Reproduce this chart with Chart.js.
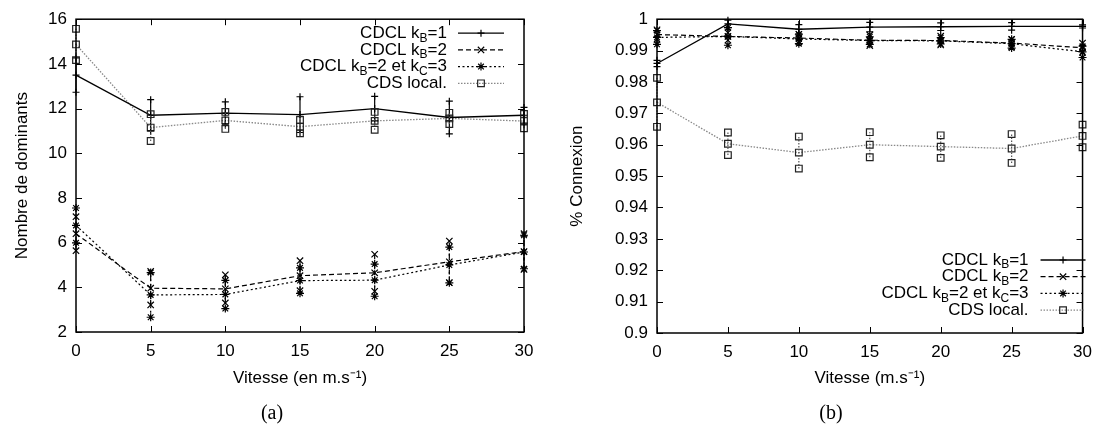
<!DOCTYPE html>
<html>
<head>
<meta charset="utf-8">
<script src="https://cdn.jsdelivr.net/npm/chart.js@4/dist/chart.umd.min.js"></script>
<style>
    body { margin: 0; background: #fff; width: 1101px; height: 426px; position: relative; overflow: hidden; }
    .wrap { position: absolute; top: 0; height: 426px; width: 550px; }
    .cap { position: absolute; top: 399px; width: 550px; text-align: center; font: 20px "Liberation Serif", "Times New Roman", serif; line-height: 26px; color: #000; }
</style>
</head>
<body>
<div class="wrap" style="left:0"><canvas id="chartA"></canvas></div>
<div class="wrap" style="left:551px"><canvas id="chartB"></canvas></div>
<div class="cap" style="left:-3px">(a)</div>
<div class="cap" style="left:556px">(b)</div>
<script>
// Vitesse (m/s)
const vitesse = [0, 5, 10, 15, 20, 25, 30];

const seriesLabels = ['CDCL k_B=1', 'CDCL k_B=2', 'CDCL k_B=2 et k_C=3', 'CDS local.'];

// (a) Nombre de dominants
const domKB1     = [13.5, 11.7, 11.8, 11.73, 12.0, 11.6, 11.7];
const domKB1Err  = [0.77, 0.7, 0.5, 0.8, 0.55, 0.73, 0.35];
const domKB2     = [6.4, 3.96, 3.93, 4.52, 4.65, 5.14, 5.6];
const domKB2Err  = [0.76, 0.75, 0.63, 0.67, 0.83, 0.93, 0.8];
const domKC3     = [6.77, 3.66, 3.68, 4.3, 4.32, 5.0, 5.58];
const domKC3Err  = [0.78, 1.0, 0.63, 0.57, 0.72, 0.8, 0.75];
const domCDS     = [14.87, 11.15, 11.47, 11.19, 11.45, 11.56, 11.44];
const domCDSErr  = [0.7, 0.6, 0.38, 0.3, 0.4, 0.25, 0.32];

// (b) % Connexion
const conKB1     = [0.9859, 0.9985, 0.9968, 0.9975, 0.9976, 0.9977, 0.9977];
const conKB1Err  = [0.001, 0.0012, 0.0015, 0.0015, 0.0012, 0.0012, 0.0005];
const conKB2     = [0.9951, 0.9945, 0.9940, 0.9933, 0.9932, 0.9924, 0.9909];
const conKB2Err  = [0.0015, 0.0012, 0.0012, 0.0017, 0.0014, 0.0012, 0.0015];
const conKC3     = [0.9942, 0.9945, 0.9937, 0.9932, 0.9931, 0.9922, 0.9896];
const conKC3Err  = [0.0022, 0.0028, 0.0015, 0.0012, 0.001, 0.0014, 0.0018];
const conCDS     = [0.9735, 0.9603, 0.9575, 0.9600, 0.9594, 0.9588, 0.9628];
const conCDSErr  = [0.0078, 0.0036, 0.0051, 0.004, 0.0036, 0.0046, 0.0036];

const FONT = '"Liberation Sans", Arial, sans-serif';
Chart.defaults.font.family = FONT;
Chart.defaults.font.size = 17;
Chart.defaults.color = '#000';

// line / marker look of each series (gnuplot style)
const looks = [
    { color: '#000', dash: [], width: 1.3, marker: 'plus', r: 3.5, mcolor: '#000' },
    { color: '#000', dash: [5, 3], width: 1.2, marker: 'cross', r: 4.5, mcolor: '#000' },
    { color: '#000', dash: [2, 2.5], width: 1.2, marker: 'star', r: 4, mcolor: '#000' },
    { color: '#888', dash: [1.5, 1.5], width: 1.3, marker: 'square', r: 4.7, mcolor: '#222' }
];
const chartjsPoint = { plus: 'cross', cross: 'crossRot', star: 'star', square: 'rect' };

function drawMarker(ctx, kind, x, y, r) {
    const d = r * Math.SQRT1_2;
    ctx.beginPath();
    if (kind === 'plus' || kind === 'star') {
        ctx.moveTo(x - r, y); ctx.lineTo(x + r, y);
        ctx.moveTo(x, y - r); ctx.lineTo(x, y + r);
    }
    if (kind === 'cross' || kind === 'star') {
        ctx.moveTo(x - d, y - d); ctx.lineTo(x + d, y + d);
        ctx.moveTo(x - d, y + d); ctx.lineTo(x + d, y - d);
    }
    if (kind === 'square') ctx.rect(x - d, y - d, 2 * d, 2 * d);
    ctx.stroke();
}

function makeDatasets(values, errors) {
    return seriesLabels.map((label, k) => {
        const lk = looks[k];
        return {
            label,
            data: vitesse.map((x, i) => ({ x, y: values[k][i] })),
            err: errors[k],
            look: lk,
            borderColor: lk.color,
            borderDash: lk.dash,
            borderWidth: lk.width,
            pointStyle: chartjsPoint[lk.marker],
            pointRadius: lk.r,
            pointBorderColor: lk.mcolor,
            pointBackgroundColor: 'rgba(0,0,0,0)',
            pointBorderWidth: 1.2,
            tension: 0,
            fill: false,
            clip: false
        };
    });
}

// error bars with markers at both ends
const errorBars = {
    id: 'errorBars',
    afterDatasetsDraw(chart) {
        const ctx = chart.ctx;
        const xs = chart.scales.x, ys = chart.scales.y;
        chart.data.datasets.forEach(ds => {
            const lk = ds.look;
            ctx.save();
            ctx.strokeStyle = lk.color === '#888' ? '#555' : lk.color;
            ctx.lineWidth = 1.2;
            ds.data.forEach((p, i) => {
                const x = xs.getPixelForValue(p.x);
                const y1 = ys.getPixelForValue(p.y - ds.err[i]);
                const y2 = ys.getPixelForValue(p.y + ds.err[i]);
                ctx.setLineDash(lk.dash);
                ctx.beginPath();
                ctx.moveTo(x, y1); ctx.lineTo(x, y2);
                ctx.stroke();
                ctx.setLineDash([]);
                ctx.strokeStyle = lk.mcolor;
                drawMarker(ctx, lk.marker, x, y1, lk.r);
                drawMarker(ctx, lk.marker, x, y2, lk.r);
                ctx.strokeStyle = lk.color === '#888' ? '#555' : lk.color;
            });
            ctx.restore();
        });
    }
};

// frame + inward ticks on all four sides
const frame = {
    id: 'frame',
    afterDatasetsDraw(chart) {
        const { ctx, chartArea: a } = chart;
        const xs = chart.scales.x, ys = chart.scales.y;
        const tl = 6;
        ctx.save();
        ctx.strokeStyle = '#000';
        ctx.lineWidth = 1;
        ctx.beginPath();
        xs.ticks.forEach(t => {
            const x = Math.round(xs.getPixelForValue(t.value)) + 0.5;
            ctx.moveTo(x, a.bottom); ctx.lineTo(x, a.bottom - tl);
            ctx.moveTo(x, a.top); ctx.lineTo(x, a.top + tl);
        });
        ys.ticks.forEach(t => {
            const y = Math.round(ys.getPixelForValue(t.value)) + 0.5;
            ctx.moveTo(a.left, y); ctx.lineTo(a.left + tl, y);
            ctx.moveTo(a.right, y); ctx.lineTo(a.right - tl, y);
        });
        ctx.stroke();
        ctx.lineWidth = 1.5;
        ctx.strokeRect(a.left, a.top, a.right - a.left, a.bottom - a.top);
        ctx.restore();
    }
};

// key with subscripts (k_B -> k with subscript B)
function drawRich(ctx, text, xRight, y, size) {
    const parts = text.split(/_(.)/);
    const sub = Math.round(size * 0.72);
    let total = 0;
    parts.forEach((s, i) => {
        ctx.font = (i % 2 ? sub : size) + 'px ' + FONT;
        total += ctx.measureText(s).width;
    });
    let x = xRight - total;
    ctx.textAlign = 'left';
    ctx.textBaseline = 'middle';
    parts.forEach((s, i) => {
        ctx.font = (i % 2 ? sub : size) + 'px ' + FONT;
        ctx.fillText(s, x, i % 2 ? y + size * 0.3 : y);
        x += ctx.measureText(s).width;
    });
}

const gpLegend = {
    id: 'gpLegend',
    afterDraw(chart, args, opts) {
        const { ctx, chartArea: a } = chart;
        ctx.save();
        ctx.fillStyle = '#000';
        chart.data.datasets.forEach((ds, k) => {
            const lk = ds.look;
            const y = (opts.fromBottom ? a.bottom : a.top) + opts.dy + k * 16.7;
            drawRich(ctx, ds.label, a.right + opts.textRight, y, 17);
            const x1 = a.right + opts.lineFrom, x2 = a.right + opts.lineTo;
            ctx.strokeStyle = lk.color;
            ctx.lineWidth = lk.width;
            ctx.setLineDash(lk.dash);
            ctx.beginPath();
            ctx.moveTo(x1, y); ctx.lineTo(x2, y);
            ctx.stroke();
            ctx.setLineDash([]);
            ctx.strokeStyle = lk.mcolor;
            ctx.lineWidth = 1.2;
            drawMarker(ctx, lk.marker, (x1 + x2) / 2, y, lk.r);
        });
        ctx.restore();
    }
};

function makeChart(id, datasets, cfg) {
    return new Chart(document.getElementById(id), {
        type: 'line',
        data: { datasets },
        options: {
            responsive: true,
            maintainAspectRatio: false,
            animation: false,
            layout: { padding: { top: 16, right: cfg.padRight, bottom: 0, left: 0 } },
            plugins: {
                legend: { display: false },
                tooltip: { enabled: false },
                gpLegend: cfg.legend
            },
            scales: {
                x: {
                    type: 'linear',
                    min: 0, max: 30,
                    grid: { display: false, drawTicks: false },
                    border: { display: false },
                    ticks: { stepSize: 5, padding: 9, autoSkip: false, maxRotation: 0 },
                    title: { display: true, text: cfg.xTitle, padding: { top: 0, bottom: 37 } },
                    afterFit: s => { s.height = cfg.xHeight; }
                },
                y: {
                    min: cfg.yMin, max: cfg.yMax,
                    grid: { display: false, drawTicks: false },
                    border: { display: false },
                    ticks: { stepSize: cfg.yStep, padding: 9, autoSkip: false, callback: cfg.yFormat },
                    title: { display: true, text: cfg.yTitle, padding: { top: cfg.yTitlePad, bottom: 0 } },
                    afterFit: s => { s.width = cfg.yWidth; }
                }
            }
        },
        plugins: [errorBars, frame, gpLegend]
    });
}

makeChart('chartA',
    makeDatasets([domKB1, domKB2, domKC3, domCDS], [domKB1Err, domKB2Err, domKC3Err, domCDSErr]),
    {
        padRight: 26, xHeight: 94, yWidth: 76, yTitlePad: 12,
        yMin: 2, yMax: 16, yStep: 2,
        yFormat: v => String(v),
        xTitle: 'Vitesse (en m.s\u207B\u00B9)',
        yTitle: 'Nombre de dominants',
        legend: { fromBottom: false, dy: 14, textRight: -77, lineFrom: -66, lineTo: -20 }
    });

makeChart('chartB',
    makeDatasets([conKB1, conKB2, conKC3, conCDS], [conKB1Err, conKB2Err, conKC3Err, conCDSErr]),
    {
        padRight: 17, xHeight: 93, yWidth: 106, yTitlePad: 16,
        yMin: 0.9, yMax: 1, yStep: 0.01,
        yFormat: v => String(+v.toFixed(2)),
        xTitle: 'Vitesse (m.s\u207B\u00B9)',
        yTitle: '% Connexion',
        legend: { fromBottom: true, dy: -73, textRight: -54, lineFrom: -42, lineTo: 3 }
    });
</script>
</body>
</html>
